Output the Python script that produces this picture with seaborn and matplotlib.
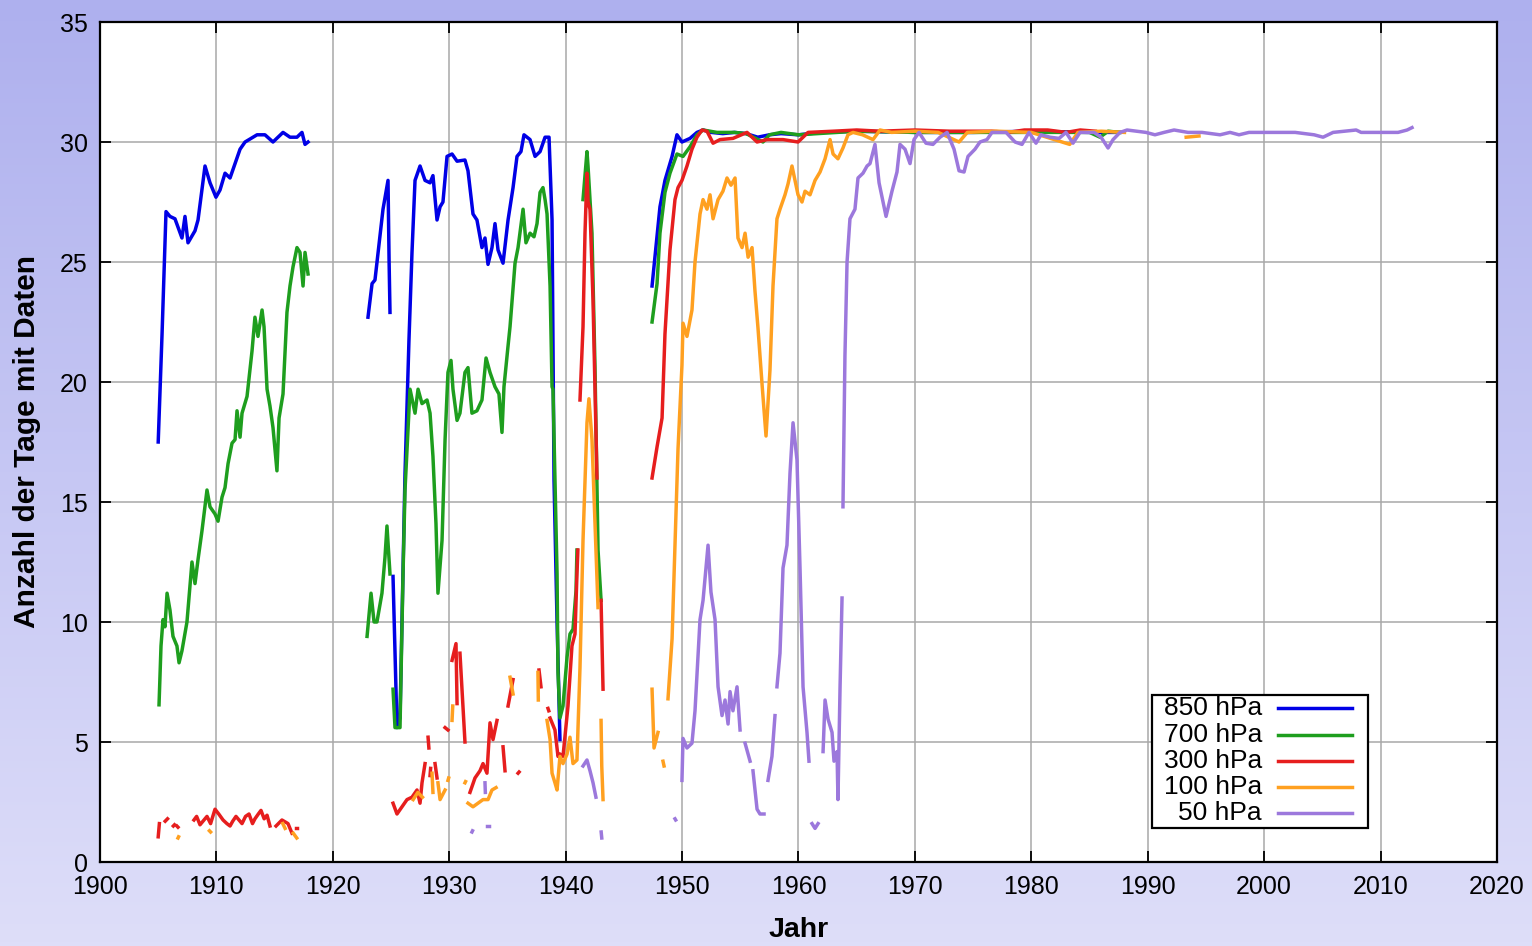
import numpy as np
import pandas as pd
import matplotlib
matplotlib.use("Agg")
import matplotlib.pyplot as plt
from matplotlib.colors import LinearSegmentedColormap
from matplotlib.patches import Rectangle
from matplotlib.lines import Line2D
import seaborn as sns

nan = np.nan

levels = ["850 hPa", "700 hPa", "300 hPa", "100 hPa", "50 hPa"]
colors = ["#0000e6", "#1e9e1e", "#e61e1e", "#ffa020", "#9c78dc"]

# ---------------- 850 hPa ----------------
years_850 = [1905.0, 1905.33, 1905.67, 1906.01, 1906.44, 1907.04, 1907.30, 1907.56, 1908.16, 1908.42,
             1909.02, 1909.45, 1909.96, 1910.31, 1910.74, 1911.17, 1911.60, 1912.03, 1912.46, 1913.49,
             1914.17, 1914.86, 1915.72, 1916.32, 1916.92, 1917.35, 1917.61, 1917.87, nan,
             1923.02, 1923.37, 1923.62, 1924.31, 1924.74, 1924.83, 1924.91, nan,
             1925.17, 1925.51, 1925.77, 1926.20, 1926.54, 1926.80, 1927.06, 1927.49, 1927.92, 1928.35,
             1928.60, 1928.95, 1929.21, 1929.46, 1929.81, 1930.24, 1930.67, 1931.35, 1931.61, 1932.04,
             1932.38, 1932.81, 1933.07, 1933.33, 1933.67, 1933.93, 1934.19, 1934.62, 1935.05, 1935.48,
             1935.82, 1936.16, 1936.42, 1936.94, 1937.37, 1937.80, 1938.23, 1938.57, 1938.83, 1939.0,
             1939.26, 1939.51, nan,
             1947.42, 1948.10, 1948.53, 1949.14, 1949.56, 1949.99, 1950.68, 1951.28, 1951.80, 1952.5,
             1953.5, 1954.5, 1955.5, 1956.5, 1957.5, 1958.5, 1960.0, 1962.0, 1965.0, 1970.0, 1975.0,
             1980.0, 1985.0, 1987.6]
vals_850 = [17.5, 22.0, 27.1, 26.9, 26.8, 26.0, 26.9, 25.8, 26.3, 26.75,
            29.0, 28.3, 27.7, 28.0, 28.7, 28.5, 29.1, 29.7, 30.0, 30.3,
            30.3, 30.0, 30.4, 30.2, 30.2, 30.4, 29.9, 30.0, nan,
            22.7, 24.1, 24.25, 27.2, 28.4, 25.1, 22.9, nan,
            11.9, 5.6, 6.0, 16.2, 21.75, 25.4, 28.4, 29.0, 28.4, 28.3,
            28.6, 26.75, 27.3, 27.5, 29.4, 29.5, 29.2, 29.25, 28.8, 27.0,
            26.75, 25.6, 26.0, 24.9, 25.6, 26.6, 25.5, 24.95, 26.75, 28.1,
            29.4, 29.6, 30.3, 30.1, 29.4, 29.6, 30.2, 30.2, 26.75, 15.9,
            10.0, 5.1, nan,
            24.0, 27.3, 28.4, 29.4, 30.3, 30.0, 30.15, 30.4, 30.5, 30.4,
            30.35, 30.4, 30.35, 30.2, 30.3, 30.35, 30.3, 30.4, 30.45, 30.4, 30.4,
            30.45, 30.4, 30.4]

# ---------------- 700 hPa ----------------
years_700 = [1905.07, 1905.24, 1905.41, 1905.58, 1905.76, 1906.01, 1906.27, 1906.61, 1906.79, 1907.04,
             1907.47, 1907.90, 1908.16, 1908.42, 1908.76, 1909.19, 1909.45, 1909.88, 1910.14, 1910.48,
             1910.74, 1911.0, 1911.34, 1911.60, 1911.77, 1912.03, 1912.20, 1912.63, 1913.06, 1913.31,
             1913.57, 1913.92, 1914.09, 1914.35, 1914.60, 1914.86, 1915.20, 1915.38, 1915.72, 1916.06,
             1916.32, 1916.58, 1916.92, 1917.18, 1917.44, 1917.61, 1917.87, nan,
             1922.94, 1923.28, 1923.54, 1923.79, 1924.22, 1924.48, 1924.65, 1924.91, nan,
             1925.17, 1925.34, 1925.77, 1926.03, 1926.20, 1926.63, 1927.06, 1927.32, 1927.66, 1928.09,
             1928.35, 1928.60, 1928.86, 1929.03, 1929.38, 1929.64, 1929.89, 1930.15, 1930.32, 1930.67,
             1930.92, 1931.35, 1931.61, 1931.95, 1932.38, 1932.81, 1933.16, 1933.50, 1933.93, 1934.27,
             1934.53, 1934.70, 1935.05, 1935.22, 1935.65, 1935.91, 1936.34, 1936.59, 1936.94, 1937.28,
             1937.54, 1937.80, 1938.05, 1938.23, 1938.40, 1938.66, 1938.83, 1938.91, 1939.26, 1939.34,
             1939.51, 1939.77, 1940.12, 1940.37, 1940.63, 1940.89, 1940.97, nan,
             1941.49, 1941.83, 1941.92, 1942.26, 1942.52, 1942.78, 1943.04, nan,
             1947.42, 1947.85, 1948.10, 1948.53, 1948.96, 1949.56, 1950.08, 1950.68, 1951.28, 1951.80,
             1953.0, 1954.5, 1955.5, 1956.95, 1957.5, 1958.5, 1960.0, 1965.0, 1970.0, 1975.0,
             1980.0, 1985.0, 1985.9, 1986.6, 1987.6]
vals_700 = [6.55, 9.0, 10.1, 9.8, 11.2, 10.5, 9.4, 9.0, 8.3, 8.8,
            10.0, 12.5, 11.6, 12.6, 13.8, 15.5, 14.8, 14.5, 14.2, 15.2,
            15.6, 16.6, 17.45, 17.6, 18.8, 17.7, 18.7, 19.4, 21.3, 22.7,
            21.9, 23.0, 22.3, 19.7, 19.0, 18.1, 16.3, 18.5, 19.5, 22.9,
            24.0, 24.8, 25.6, 25.4, 24.0, 25.4, 24.5, nan,
            9.4, 11.2, 10.0, 10.0, 11.2, 12.7, 14.0, 12.0, nan,
            7.2, 5.6, 5.6, 12.0, 15.5, 19.7, 18.7, 19.7, 19.1, 19.25,
            18.7, 16.9, 14.1, 11.2, 13.4, 17.6, 20.4, 20.9, 19.7, 18.4,
            18.7, 20.4, 20.6, 18.7, 18.8, 19.25, 21.0, 20.4, 19.8, 19.5,
            17.9, 19.8, 21.5, 22.3, 24.95, 25.6, 27.2, 25.8, 26.2, 26.05,
            26.6, 27.9, 28.1, 27.6, 27.0, 24.0, 19.8, 19.7, 12.0, 7.9,
            6.0, 6.5, 8.55, 9.5, 9.7, 11.3, 13.0, nan,
            27.6, 29.6, 29.0, 26.2, 20.6, 13.0, 10.9, nan,
            22.5, 24.1, 26.2, 27.9, 28.7, 29.5, 29.4, 29.8, 30.3, 30.5,
            30.4, 30.4, 30.35, 30.0, 30.3, 30.4, 30.3, 30.45, 30.4, 30.4,
            30.4, 30.4, 30.2, 30.45, 30.4]

# ---------------- 300 hPa ----------------
years_300 = [1905.0, 1905.1, nan, 1905.6, 1905.8, nan, 1906.3, 1906.4, nan, 1906.6, 1906.7, nan,
             1908.07, 1908.3, 1908.59, 1909.19, 1909.5, 1909.88, 1910.2, 1910.57, 1910.9, 1911.17,
             1911.4, 1911.68, 1912.20, 1912.5, 1912.80, 1913.1, 1913.31, 1913.6, 1913.83, 1914.1,
             1914.35, 1914.60, nan,
             1915.12, 1915.63, 1916.15, 1916.49, nan, 1916.8, 1916.9, nan,
             1925.17, 1925.51, 1925.94, 1926.37, 1926.80, 1927.23, 1927.49, 1927.66, 1927.92, nan,
             1928.18, 1928.25, nan, 1928.35, 1928.4, nan, 1928.78, 1928.95, nan, 1929.64, 1929.89, nan,
             1930.24, 1930.58, 1930.67, nan, 1930.92, 1931.35, nan,
             1931.78, 1932.21, 1932.64, 1932.90, 1933.24, 1933.50, 1933.76, 1934.10, nan,
             1934.62, 1934.79, nan, 1935.05, 1935.48, nan, 1935.91, 1936.0, nan, 1937.71, 1937.88, nan,
             1938.48, 1938.55, nan,
             1938.66, 1939.08, 1939.34, 1939.51, 1939.77, 1940.20, 1940.54, 1940.80, 1940.97, 1941.05, nan,
             1941.23, 1941.49, 1941.66, 1941.83, 1941.92, 1942.09, 1942.35, 1942.69, nan,
             1943.04, 1943.21, nan,
             1947.42, 1947.85, 1948.28, 1948.53, 1948.96, 1949.39, 1949.65, 1949.99, 1950.42, 1950.85,
             1951.28, 1951.71, 1952.14, 1952.66, 1953.26, 1954.37, 1955.58, 1956.44, 1957.30, 1958.67,
             1959.96, 1960.82, 1963.0, 1965.0, 1967.0, 1970.0, 1973.0, 1976.6, 1978.0, 1979.4,
             1981.4, 1983.0, 1984.2, 1985.5]
vals_300 = [1.05, 1.6, nan, 1.7, 1.8, nan, 1.5, 1.55, nan, 1.5, 1.45, nan,
            1.75, 1.9, 1.55, 1.9, 1.6, 2.2, 2.0, 1.75, 1.6, 1.5,
            1.7, 1.9, 1.6, 1.9, 2.0, 1.6, 1.8, 2.0, 2.15, 1.8,
            1.95, 1.5, nan,
            1.5, 1.75, 1.6, 1.2, nan, 1.4, 1.4, nan,
            2.45, 2.0, 2.3, 2.6, 2.7, 3.0, 2.45, 3.3, 4.1, nan,
            5.2, 4.75, nan, 3.6, 3.9, nan, 4.1, 3.5, nan, 5.6, 5.5, nan,
            8.4, 9.1, 6.6, nan, 8.7, 5.0, nan,
            2.9, 3.5, 3.8, 4.1, 3.7, 5.8, 5.1, 5.9, nan,
            4.8, 3.8, nan, 6.5, 7.6, nan, 3.7, 3.75, nan, 8.0, 7.3, nan,
            6.4, 6.3, nan,
            6.0, 5.5, 4.4, 4.5, 4.4, 6.5, 9.0, 9.5, 12.0, 13.0, nan,
            19.25, 22.3, 26.2, 28.7, 27.5, 27.2, 23.4, 16.0, nan,
            10.9, 7.2, nan,
            16.0, 17.3, 18.5, 22.0, 25.5, 27.6, 28.1, 28.4, 29.0, 29.7,
            30.2, 30.5, 30.45, 29.95, 30.1, 30.15, 30.4, 30.0, 30.1, 30.1,
            30.0, 30.4, 30.45, 30.5, 30.45, 30.5, 30.45, 30.45, 30.4, 30.5,
            30.5, 30.4, 30.5, 30.45]

# ---------------- 100 hPa ----------------
years_100 = [1906.7, 1906.75, nan, 1909.4, 1909.5, nan, 1915.7, 1915.9, nan, 1916.6, 1916.9, nan,
             1926.9, 1927.3, 1927.7, nan, 1928.52, 1928.60, nan, 1929.03, 1929.21, 1929.64, nan,
             1929.89, 1929.95, nan, 1930.24, 1930.3, nan, 1931.35, 1931.4, nan,
             1931.61, 1932.04, 1932.47, 1932.90, 1933.33, 1933.67, 1934.02, nan,
             1935.22, 1935.48, nan, 1937.62, 1937.65, nan,
             1938.40, 1938.66, 1938.83, 1939.08, 1939.26, 1939.51, 1939.77, 1940.12, 1940.37, 1940.63,
             1940.97, 1941.23, 1941.49, 1941.83, 1942.0, 1942.26, 1942.52, 1942.78, nan,
             1943.04, 1943.1, 1943.21, nan,
             1947.42, 1947.59, 1947.93, nan, 1948.36, 1948.45, nan,
             1948.79, 1949.14, 1949.39, 1949.65, 1949.99, 1950.08, 1950.42, 1950.85, 1951.11, 1951.54,
             1951.80, 1952.14, 1952.40, 1952.66, 1953.09, 1953.51, 1953.86, 1954.20, 1954.55, 1954.80,
             1955.15, 1955.41, 1955.67, 1956.01, 1956.26, 1956.52, 1956.87, 1957.21, 1957.55, 1957.81,
             1958.15, 1958.41, 1958.84, 1959.10, 1959.44, 1959.70, 1959.96, 1960.30, 1960.56, 1960.99,
             1961.42, 1961.85, 1962.28, 1962.71, 1962.97, 1963.39, 1963.82, 1964.25, 1964.68, 1965.5,
             1966.4, 1967.0, 1968.0, 1970.0, 1972.0, 1973.79, 1974.5, 1977.0, 1980.0, 1983.3,
             1984.0, 1986.0, 1988.0, nan, 1993.3, 1994.4]
vals_100 = [1.0, 1.05, nan, 1.3, 1.25, nan, 1.6, 1.4, nan, 1.2, 1.0, nan,
            2.6, 2.9, 2.7, nan, 3.7, 2.9, nan, 3.3, 2.6, 3.0, nan,
            3.4, 3.5, nan, 5.9, 6.5, nan, 3.3, 3.35, nan,
            2.45, 2.3, 2.45, 2.6, 2.6, 3.0, 3.1, nan,
            7.7, 7.0, nan, 7.9, 6.75, nan,
            5.9, 5.1, 3.7, 3.3, 3.0, 4.4, 4.1, 4.5, 5.2, 4.1,
            4.25, 8.1, 13.4, 18.3, 19.3, 17.6, 14.1, 10.6, nan,
            5.9, 4.0, 2.6, nan,
            7.2, 4.75, 5.4, nan, 4.2, 4.0, nan,
            6.8, 9.3, 13.2, 17.2, 20.7, 22.45, 21.9, 23.0, 25.0, 27.0,
            27.6, 27.2, 27.8, 26.8, 27.6, 27.95, 28.5, 28.2, 28.5, 26.0,
            25.6, 26.2, 25.2, 25.6, 23.8, 22.25, 19.9, 17.75, 20.5, 24.0,
            26.8, 27.2, 27.8, 28.25, 29.0, 28.4, 27.8, 27.5, 27.95, 27.8,
            28.4, 28.75, 29.3, 30.1, 29.5, 29.3, 29.75, 30.3, 30.4, 30.3,
            30.1, 30.5, 30.4, 30.45, 30.4, 30.0, 30.4, 30.45, 30.4, 29.9,
            30.4, 30.45, 30.4, nan, 30.2, 30.25]

# ---------------- 50 hPa ----------------
years_50 = [1931.95, 1932.0, nan, 1933.07, 1933.1, nan, 1933.2, 1933.4, nan,
            1941.49, 1941.83, 1942.09, 1942.35, 1942.60, nan, 1943.05, 1943.1, nan,
            1949.39, 1949.45, nan,
            1949.99, 1950.08, 1950.42, 1950.85, 1951.11, 1951.54, 1951.80, 1952.23, 1952.48, 1952.83,
            1953.09, 1953.43, 1953.69, 1953.95, 1954.12, 1954.37, 1954.72, 1954.98, nan,
            1955.41, 1955.84, nan, 1956.09, 1956.44, 1956.69, 1957.04, nan,
            1957.38, 1957.72, 1957.98, nan,
            1958.15, 1958.41, 1958.67, 1959.01, 1959.27, 1959.53, 1959.87, 1960.13, 1960.39, 1960.73,
            1960.90, nan, 1961.16, 1961.42, 1961.68, nan,
            1962.11, 1962.28, 1962.54, 1962.88, 1963.05, 1963.31, 1963.39, 1963.57, 1963.74, nan,
            1963.82, 1963.99, 1964.17, 1964.42, 1964.85, 1965.11, 1965.54, 1965.89, 1966.14, 1966.57,
            1966.92, 1967.52, 1968.03, 1968.46, 1968.72, 1969.15, 1969.58, 1969.92, 1970.35, 1970.95,
            1971.55, 1972.16, 1972.76, 1973.36, 1973.79, 1974.22, 1974.56, 1975.16, 1975.59, 1976.19,
            1976.62, 1977.83, 1978.60, 1979.20, 1979.80, 1980.40, 1980.83, 1981.61, 1982.38, 1982.98,
            1983.58, 1984.18, 1985.39, 1985.99, 1986.59, 1987.02, 1987.62, 1988.22, 1989.85, 1990.62,
            1991.40, 1992.26, 1993.46, 1994.66, 1996.21, 1997.07, 1997.84, 1998.70, 1999.90, 2000.68,
            2002.66, 2004.29, 2005.06, 2005.92, 2007.90, 2008.33, 2010.73, 2011.50, 2012.28, 2012.70]
vals_50 = [1.25, 1.3, nan, 3.3, 2.9, nan, 1.5, 1.5, nan,
           4.0, 4.25, 3.8, 3.3, 2.7, nan, 1.25, 1.0, nan,
           1.8, 1.75, nan,
           3.4, 5.15, 4.75, 4.95, 6.3, 10.1, 10.9, 13.2, 11.25, 10.1,
           7.3, 6.1, 6.75, 5.75, 7.1, 6.3, 7.3, 5.5, nan,
           4.95, 4.2, nan, 3.8, 2.2, 2.0, 2.0, nan,
           3.4, 4.4, 6.1, nan,
           7.3, 8.7, 12.25, 13.2, 16.2, 18.3, 16.75, 12.25, 7.3, 5.4,
           4.2, nan, 1.6, 1.4, 1.6, nan,
           4.6, 6.75, 5.95, 5.4, 4.2, 4.6, 2.6, 7.3, 11.0, nan,
           14.8, 21.1, 25.0, 26.8, 27.2, 28.5, 28.7, 29.0, 29.1, 29.9,
           28.3, 26.9, 27.95, 28.75, 29.9, 29.7, 29.1, 30.1, 30.4, 29.95,
           29.9, 30.2, 30.4, 29.7, 28.8, 28.75, 29.4, 29.7, 30.0, 30.1,
           30.4, 30.4, 30.0, 29.9, 30.4, 29.95, 30.3, 30.2, 30.15, 30.4,
           29.95, 30.4, 30.4, 30.2, 29.75, 30.1, 30.4, 30.5, 30.4, 30.3,
           30.4, 30.5, 30.4, 30.4, 30.3, 30.4, 30.3, 30.4, 30.4, 30.4,
           30.4, 30.3, 30.2, 30.4, 30.5, 30.4, 30.4, 30.4, 30.5, 30.6]

x_ticks = list(range(1900, 2021, 10))
y_ticks = list(range(0, 36, 5))

series = {
    "850 hPa": (years_850, vals_850),
    "700 hPa": (years_700, vals_700),
    "300 hPa": (years_300, vals_300),
    "100 hPa": (years_100, vals_100),
    "50 hPa": (years_50, vals_50),
}

rows = []
for lev in levels:
    ys, vs = series[lev]
    seg = 0
    for yr, v in zip(ys, vs):
        if np.isnan(yr) or np.isnan(v):
            seg += 1
            continue
        rows.append((lev, f"{lev}-{seg}", yr, v))
df = pd.DataFrame(rows, columns=["level", "seg", "Jahr", "Tage"])

plt.rcParams["font.family"] = ["Liberation Sans", "DejaVu Sans"]

W, H = 1532, 946
fig = plt.figure(figsize=(W / 100, H / 100), dpi=100)

# gradient background
bg = fig.add_axes([0, 0, 1, 1], zorder=-10)
grad = np.linspace(0, 1, 256).reshape(-1, 1)
cmap = LinearSegmentedColormap.from_list("bg", ["#aeb0ee", "#dedef9"])
bg.imshow(grad, aspect="auto", cmap=cmap, extent=[0, 1, 0, 1], origin="upper")
bg.set_axis_off()

ax = fig.add_axes([100 / W, (H - 862) / H, 1397 / W, 840 / H])
ax.set_facecolor("white")

sns.lineplot(data=df, x="Jahr", y="Tage", hue="level", hue_order=levels,
             palette=colors, units="seg", estimator=None, sort=False,
             lw=2.5, legend=False, ax=ax)

ax.set_xlim(1900, 2020)
ax.set_ylim(0, 35)
ax.set_xticks(x_ticks)
ax.set_yticks(y_ticks)
ax.grid(True, color="#a8a8a8", lw=1.1)
ax.set_axisbelow(True)
ax.tick_params(direction="in", length=8, width=1.3, top=True, right=True,
               labelsize=18, pad=9, colors="black")
for sp in ax.spines.values():
    sp.set_linewidth(1.6)
    sp.set_color("black")
ax.set_xlabel("Jahr", fontsize=20.5, fontweight="bold", labelpad=13)
ax.set_ylabel("Anzahl der Tage mit Daten", fontsize=21.5, fontweight="bold", labelpad=13)

# legend box (gnuplot style: text right-aligned, sample to the right)
bx0, bx1 = (1152 - 100) / 1397, (1368 - 100) / 1397
by0, by1 = (862 - 828) / 840, (862 - 695) / 840
ax.add_patch(Rectangle((bx0, by0), bx1 - bx0, by1 - by0, transform=ax.transAxes,
                       facecolor="white", edgecolor="black", lw=1.6, zorder=5))
row_y = [(862 - py) / 840 for py in (708, 735, 761, 787, 813)]
tx = (1262 - 100) / 1397
lx0, lx1 = (1278 - 100) / 1397, (1352 - 100) / 1397
for lev, col, yy in zip(levels, colors, row_y):
    ax.text(tx, yy, lev, transform=ax.transAxes, ha="right", va="center",
            fontsize=19, zorder=6)
    ax.add_line(Line2D([lx0, lx1], [yy, yy], transform=ax.transAxes, color=col,
                       lw=2.5, zorder=6))

fig.savefig("out.png", dpi=100)
